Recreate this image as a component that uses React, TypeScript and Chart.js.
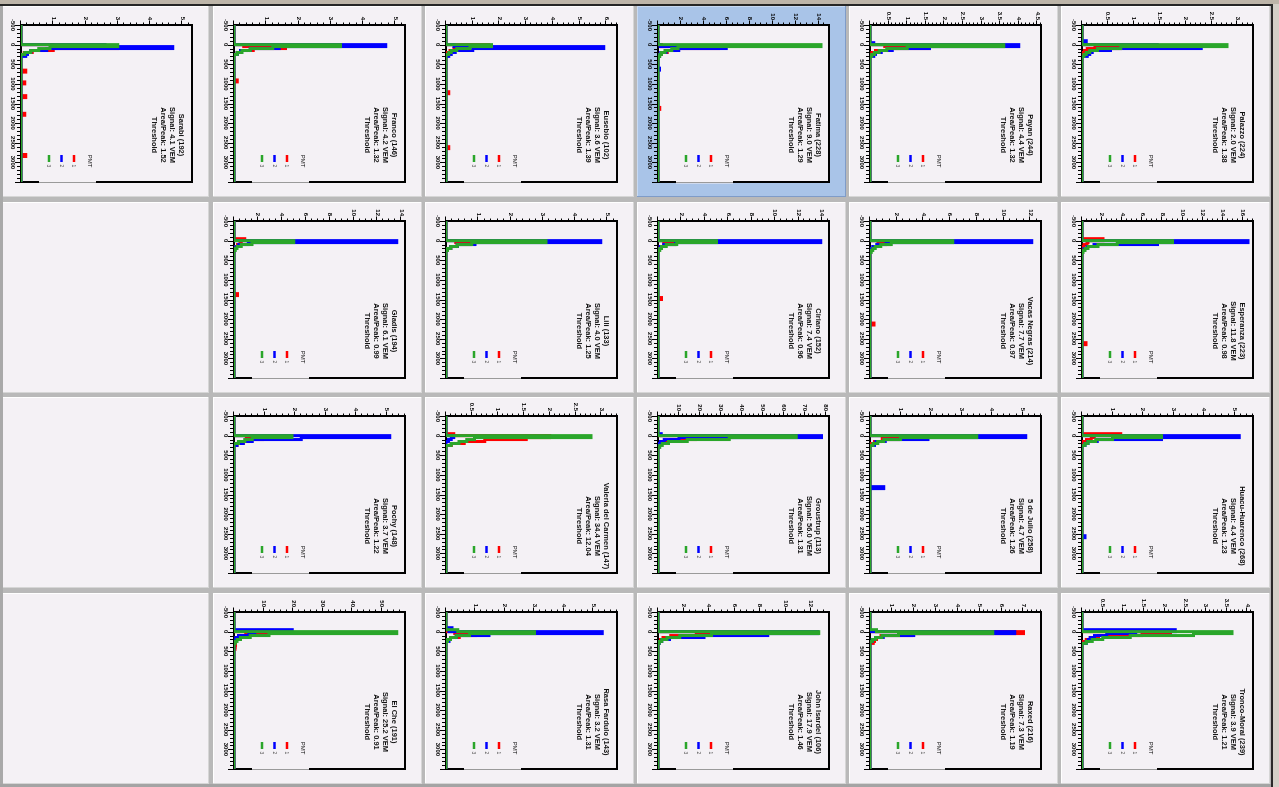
import React, { useEffect, useRef } from 'react';
import { Chart, registerables } from 'chart.js';

Chart.register(...registerables);

type Pt = [number, number];

// ---------- shared axis data ----------
const X_TICKS = [-500, 0, 500, 1000, 1500, 2000, 2500, 3000];
const X_MIN = -500;
const X_MAX = 3500;
const PMT_LABELS = ['1', '2', '3'];
const LEGEND_TITLE = 'PMT';

// ---------- per-station data (bin left edge, count) ----------
const palazzoTitle = ['Palazzo (224)', 'Signal: 2.0 VEM', 'Area/Peak: 1.38', 'Threshold'];
const palazzoYTicks = [0.5, 1, 1.5, 2, 2.5, 3];
const palazzoPmt1: Pt[] = [[-500, 0], [0, 0.25], [50, 0.75], [100, 0.1], [150, 0.05], [200, 0], [3500, 0]];
const palazzoPmt2: Pt[] = [[-500, 0], [-100, 0.08], [-50, 0], [0, 1.45], [50, 2.3], [100, 0.55], [150, 0.2], [200, 0.15], [250, 0.1], [300, 0], [3500, 0]];
const palazzoPmt3: Pt[] = [[-500, 0], [0, 2.8], [50, 0.75], [100, 0.3], [150, 0.15], [200, 0.08], [250, 0.04], [300, 0], [3500, 0]];

const payanTitle = ['Payan (244)', 'Signal: 4.4 VEM', 'Area/Peak: 1.32', 'Threshold'];
const payanYTicks = [0.5, 1, 1.5, 2, 2.5, 3, 3.5, 4, 4.5];
const payanPmt1: Pt[] = [[-500, 0], [0, 0.4], [50, 1.6], [100, 0.5], [150, 0.15], [200, 0.05], [250, 0], [3500, 0]];
const payanPmt2: Pt[] = [[-500, 0], [-50, 0.1], [0, 4.0], [50, 1.6], [100, 0.6], [150, 0.3], [200, 0.15], [250, 0.1], [300, 0], [3500, 0]];
const payanPmt3: Pt[] = [[-500, 0], [0, 3.6], [50, 1.0], [100, 0.45], [150, 0.25], [200, 0.12], [250, 0.05], [300, 0], [3500, 0]];

const fatimaTitle = ['Fatima (228)', 'Signal: 9.0 VEM', 'Area/Peak: 1.29', 'Threshold'];
const fatimaYTicks = [2, 4, 6, 8, 10, 12, 14];
const fatimaPmt1: Pt[] = [[-500, 0], [0, 0.3], [50, 5.3], [100, 1.5], [150, 0.8], [200, 0.3], [250, 0.1], [300, 0], [1600, 0.15], [1650, 0], [3500, 0]];
const fatimaPmt2: Pt[] = [[-500, 0], [0, 0.2], [50, 5.95], [100, 1.8], [150, 0.7], [200, 0.25], [250, 0.1], [300, 0], [600, 0.12], [650, 0], [3500, 0]];
const fatimaPmt3: Pt[] = [[-500, 0], [0, 14.2], [50, 1.75], [100, 1.2], [150, 0.6], [200, 0.3], [250, 0.15], [300, 0.05], [350, 0], [3500, 0]];

const eusebioTitle = ['Eusebio (102)', 'Signal: 3.6 VEM', 'Area/Peak: 1.39', 'Threshold'];
const eusebioYTicks = [1, 2, 3, 4, 5, 6];
const eusebioPmt1: Pt[] = [[-500, 0], [0, 1.6], [50, 0.7], [100, 0.3], [150, 0.15], [200, 0], [1200, 0.1], [1250, 0], [2600, 0.1], [2650, 0], [3500, 0]];
const eusebioPmt2: Pt[] = [[-500, 0], [0, 0.3], [50, 5.9], [100, 1.0], [150, 0.35], [200, 0.2], [250, 0.1], [300, 0], [3500, 0]];
const eusebioPmt3: Pt[] = [[-500, 0], [0, 1.7], [50, 0.9], [100, 0.4], [150, 0.2], [200, 0.1], [250, 0], [3500, 0]];

const francoTitle = ['Franco (146)', 'Signal: 4.2 VEM', 'Area/Peak: 1.32', 'Threshold'];
const francoYTicks = [1, 2, 3, 4, 5];
const francoPmt1: Pt[] = [[-500, 0], [0, 0.3], [50, 1.6], [100, 0.6], [150, 0.2], [200, 0.1], [250, 0], [900, 0.1], [950, 0], [3500, 0]];
const francoPmt2: Pt[] = [[-500, 0], [0, 4.7], [50, 1.4], [100, 0.5], [150, 0.2], [200, 0.1], [250, 0], [3500, 0]];
const francoPmt3: Pt[] = [[-500, 0], [0, 3.3], [50, 1.2], [100, 0.5], [150, 0.25], [200, 0.1], [250, 0], [3500, 0]];

const sarabiTitle = ['Sarabi (192)', 'Signal: 4.1 VEM', 'Area/Peak: 1.52', 'Threshold'];
const sarabiYTicks = [1, 2, 3, 4, 5];
const sarabiPmt1: Pt[] = [[-500, 0], [0, 1.0], [50, 3.0], [100, 1.0], [150, 0.35], [200, 0.1], [250, 0], [650, 0.15], [700, 0], [950, 0.12], [1000, 0], [1300, 0.15], [1350, 0], [1750, 0.12], [1800, 0], [2800, 0.15], [2850, 0], [3500, 0]];
const sarabiPmt2: Pt[] = [[-500, 0], [0, 2.6], [50, 4.7], [100, 0.8], [150, 0.3], [200, 0.2], [250, 0.15], [300, 0], [3500, 0]];
const sarabiPmt3: Pt[] = [[-500, 0], [0, 3.0], [50, 0.9], [100, 0.55], [150, 0.3], [200, 0.12], [250, 0], [3500, 0]];

const esperanzaTitle = ['Esperanza (223)', 'Signal: 11.8 VEM', 'Area/Peak: 0.98', 'Threshold'];
const esperanzaYTicks = [2, 4, 6, 8, 10, 12, 14, 16];
const esperanzaPmt1: Pt[] = [[-500, 0], [-50, 2.1], [0, 0.6], [50, 0.5], [100, 0.2], [150, 0], [2600, 0.4], [2650, 0], [3500, 0]];
const esperanzaPmt2: Pt[] = [[-500, 0], [0, 16.5], [50, 7.5], [100, 1.2], [150, 0.5], [200, 0.2], [250, 0], [3500, 0]];
const esperanzaPmt3: Pt[] = [[-500, 0], [0, 9.0], [50, 3.5], [100, 1.6], [150, 0.6], [200, 0.3], [250, 0.1], [300, 0], [3500, 0]];

const vacasTitle = ['Vacas Negras (214)', 'Signal: 7.7 VEM', 'Area/Peak: 0.97', 'Threshold'];
const vacasYTicks = [2, 4, 6, 8, 10, 12];
const vacasPmt1: Pt[] = [[-500, 0], [0, 0.6], [50, 1.5], [100, 0.6], [150, 0.3], [200, 0.1], [250, 0], [2100, 0.3], [2150, 0], [3500, 0]];
const vacasPmt2: Pt[] = [[-500, 0], [0, 12.1], [50, 1.2], [100, 0.5], [150, 0.2], [200, 0], [3500, 0]];
const vacasPmt3: Pt[] = [[-500, 0], [0, 6.2], [50, 1.6], [100, 0.8], [150, 0.4], [200, 0.2], [250, 0.1], [300, 0], [3500, 0]];

const cirianoTitle = ['Ciriano (152)', 'Signal: 7.4 VEM', 'Area/Peak: 0.96', 'Threshold'];
const cirianoYTicks = [2, 4, 6, 8, 10, 12, 14];
const cirianoPmt1: Pt[] = [[-500, 0], [0, 0.5], [50, 1.4], [100, 0.5], [150, 0.2], [200, 0], [1450, 0.3], [1500, 0], [3500, 0]];
const cirianoPmt2: Pt[] = [[-500, 0], [0, 13.9], [50, 1.5], [100, 0.5], [150, 0.2], [200, 0], [3500, 0]];
const cirianoPmt3: Pt[] = [[-500, 0], [0, 5.0], [50, 1.6], [100, 0.7], [150, 0.3], [200, 0.15], [250, 0], [3500, 0]];

const liliTitle = ['Lili (133)', 'Signal: 4.0 VEM', 'Area/Peak: 1.25', 'Threshold'];
const liliYTicks = [1, 2, 3, 4, 5];
const liliPmt1: Pt[] = [[-500, 0], [0, 0.3], [50, 0.75], [100, 0.35], [150, 0.15], [200, 0], [3500, 0]];
const liliPmt2: Pt[] = [[-500, 0], [0, 4.8], [50, 0.9], [100, 0.35], [150, 0.15], [200, 0], [3500, 0]];
const liliPmt3: Pt[] = [[-500, 0], [0, 3.1], [50, 0.8], [100, 0.35], [150, 0.15], [200, 0.05], [250, 0], [3500, 0]];

const gladisTitle = ['Gladis (194)', 'Signal: 6.1 VEM', 'Area/Peak: 0.99', 'Threshold'];
const gladisYTicks = [2, 4, 6, 8, 10, 12, 14];
const gladisPmt1: Pt[] = [[-500, 0], [-50, 0.9], [0, 0.5], [50, 0.6], [100, 0.3], [150, 0], [1350, 0.3], [1400, 0], [3500, 0]];
const gladisPmt2: Pt[] = [[-500, 0], [0, 13.6], [50, 1.2], [100, 0.4], [150, 0.15], [200, 0], [3500, 0]];
const gladisPmt3: Pt[] = [[-500, 0], [0, 5.0], [50, 1.5], [100, 0.6], [150, 0.25], [200, 0.1], [250, 0], [3500, 0]];

const huacuTitle = ['Huacu-Huarenco (268)', 'Signal: 4.4 VEM', 'Area/Peak: 1.23', 'Threshold'];
const huacuYTicks = [1, 2, 3, 4, 5];
const huacuPmt1: Pt[] = [[-500, 0], [-50, 1.27], [0, 0.4], [50, 0.3], [100, 0.15], [150, 0], [3500, 0]];
const huacuPmt2: Pt[] = [[-500, 0], [0, 5.15], [50, 2.6], [100, 0.5], [150, 0.2], [200, 0.1], [250, 0], [2550, 0.1], [2600, 0], [3500, 0]];
const huacuPmt3: Pt[] = [[-500, 0], [0, 2.6], [50, 1.0], [100, 0.45], [150, 0.2], [200, 0.1], [250, 0], [3500, 0]];

const julioTitle = ['5 de Julio (258)', 'Signal: 4.7 VEM', 'Area/Peak: 1.26', 'Threshold'];
const julioYTicks = [1, 2, 3, 4, 5];
const julioPmt1: Pt[] = [[-500, 0], [0, 0.4], [50, 0.95], [100, 0.4], [150, 0.15], [200, 0], [3500, 0]];
const julioPmt2: Pt[] = [[-500, 0], [0, 5.1], [50, 1.9], [100, 0.5], [150, 0.2], [200, 0.15], [250, 0], [1300, 0.45], [1350, 0], [3500, 0]];
const julioPmt3: Pt[] = [[-500, 0], [0, 3.5], [50, 1.0], [100, 0.45], [150, 0.25], [200, 0.1], [250, 0], [3500, 0]];

const groustrupTitle = ['Groustrup (113)', 'Signal: 56.0 VEM', 'Area/Peak: 1.31', 'Threshold'];
const groustrupYTicks = [10, 20, 30, 40, 50, 60, 70, 80];
const groustrupPmt1: Pt[] = [[-500, 0], [0, 33], [50, 18], [100, 6], [150, 2], [200, 0.6], [250, 0], [3500, 0]];
const groustrupPmt2: Pt[] = [[-500, 0], [-50, 1.5], [0, 78], [50, 10], [100, 3], [150, 1.2], [200, 0.5], [250, 0], [3500, 0]];
const groustrupPmt3: Pt[] = [[-500, 0], [0, 66], [50, 34], [100, 14], [150, 5], [200, 2], [250, 0.8], [300, 0], [3500, 0]];

const valeriaTitle = ['Valeria del Carmen (147)', 'Signal: 34.4 VEM', 'Area/Peak: 12.04', 'Threshold'];
const valeriaYTicks = [0.5, 1, 1.5, 2, 2.5, 3];
const valeriaPmt1: Pt[] = [[-500, 0], [-50, 0.15], [0, 2.0], [50, 1.55], [100, 0.75], [150, 0.35], [200, 0.1], [250, 0], [3500, 0]];
const valeriaPmt2: Pt[] = [[-500, 0], [0, 0.15], [50, 0.1], [100, 0.05], [150, 0], [3500, 0]];
const valeriaPmt3: Pt[] = [[-500, 0], [0, 2.8], [50, 0.55], [100, 0.4], [150, 0.25], [200, 0.1], [250, 0], [3500, 0]];

const pochyTitle = ['Pochy (148)', 'Signal: 3.7 VEM', 'Area/Peak: 1.22', 'Threshold'];
const pochyYTicks = [1, 2, 3, 4, 5];
const pochyPmt1: Pt[] = [[-500, 0], [0, 0.4], [50, 0.95], [100, 0.5], [150, 0.3], [200, 0.1], [250, 0], [3500, 0]];
const pochyPmt2: Pt[] = [[-500, 0], [0, 5.1], [50, 2.2], [100, 0.6], [150, 0.3], [200, 0.1], [250, 0], [3500, 0]];
const pochyPmt3: Pt[] = [[-500, 0], [0, 1.9], [50, 0.6], [100, 0.35], [150, 0.15], [200, 0], [3500, 0]];

const troncoTitle = ['Tronco-Moral (239)', 'Signal: 3.9 VEM', 'Area/Peak: 1.21', 'Threshold'];
const troncoYTicks = [0.5, 1, 1.5, 2, 2.5, 3, 3.5, 4];
const troncoPmt1: Pt[] = [[-500, 0], [0, 2.14], [50, 1.45], [100, 0.4], [150, 0.2], [200, 0.1], [250, 0], [3500, 0]];
const troncoPmt2: Pt[] = [[-500, 0], [-50, 2.26], [0, 1.3], [50, 0.6], [100, 0.3], [150, 0.2], [200, 0.15], [250, 0.1], [300, 0], [3500, 0]];
const troncoPmt3: Pt[] = [[-500, 0], [0, 3.63], [50, 2.7], [100, 1.17], [150, 0.5], [200, 0.25], [250, 0.1], [300, 0], [3500, 0]];

const raxedTitle = ['Raxed (216)', 'Signal: 7.3 VEM', 'Area/Peak: 1.19', 'Threshold'];
const raxedYTicks = [1, 2, 3, 4, 5, 6, 7];
const raxedPmt1: Pt[] = [[-500, 0], [0, 7.0], [50, 1.9], [100, 0.5], [150, 0.3], [200, 0.2], [250, 0.15], [300, 0], [3500, 0]];
const raxedPmt2: Pt[] = [[-500, 0], [0, 6.6], [50, 2.0], [100, 0.6], [150, 0.25], [200, 0.1], [250, 0], [3500, 0]];
const raxedPmt3: Pt[] = [[-500, 0], [-50, 0.3], [0, 5.6], [50, 1.3], [100, 0.55], [150, 0.25], [200, 0.1], [250, 0], [3500, 0]];

const johnTitle = ['John Isardel (106)', 'Signal: 17.9 VEM', 'Area/Peak: 1.46', 'Threshold'];
const johnYTicks = [2, 4, 6, 8, 10, 12];
const johnPmt1: Pt[] = [[-500, 0], [0, 7.5], [50, 3.0], [100, 1.0], [150, 0.4], [200, 0.2], [250, 0], [3500, 0]];
const johnPmt2: Pt[] = [[-500, 0], [0, 12.5], [50, 8.6], [100, 3.6], [150, 0.9], [200, 0.3], [250, 0.1], [300, 0], [3500, 0]];
const johnPmt3: Pt[] = [[-500, 0], [0, 12.6], [50, 4.2], [100, 1.7], [150, 0.7], [200, 0.3], [250, 0.1], [300, 0], [3500, 0]];

const rasaTitle = ['Rasa Fardulo (143)', 'Signal: 3.2 VEM', 'Area/Peak: 1.31', 'Threshold'];
const rasaYTicks = [1, 2, 3, 4, 5];
const rasaPmt1: Pt[] = [[-500, 0], [0, 0.3], [50, 1.0], [100, 0.45], [150, 0.15], [200, 0], [3500, 0]];
const rasaPmt2: Pt[] = [[-500, 0], [-100, 0.2], [-50, 0.1], [0, 5.3], [50, 1.46], [100, 0.35], [150, 0.15], [200, 0.1], [250, 0], [3500, 0]];
const rasaPmt3: Pt[] = [[-500, 0], [-50, 0.4], [0, 3.0], [50, 0.8], [100, 0.35], [150, 0.15], [200, 0.05], [250, 0], [3500, 0]];

const elcheTitle = ['El Che (191)', 'Signal: 25.2 VEM', 'Area/Peak: 0.91', 'Threshold'];
const elcheYTicks = [10, 20, 30, 40, 50];
const elchePmt1: Pt[] = [[-500, 0], [0, 11.8], [50, 4.0], [100, 1.6], [150, 0.8], [200, 0.4], [250, 0], [300, 0.5], [350, 0.4], [400, 0.3], [450, 0], [3500, 0]];
const elchePmt2: Pt[] = [[-500, 0], [-50, 19.7], [0, 7.0], [50, 5.0], [100, 1.5], [150, 0.6], [200, 0.3], [250, 0], [3500, 0]];
const elchePmt3: Pt[] = [[-500, 0], [0, 55], [50, 11.8], [100, 5.5], [150, 2.2], [200, 1.0], [250, 0.4], [300, 0], [3500, 0]];

// ---------- layout / style ----------
const FONT = '"Liberation Sans", Arial, Helvetica, sans-serif';
const RED = '#ff0000';
const BLUE = '#0000ff';
const GREEN = '#2aa62a';
const PANEL_BG = '#f4f1f5';
const SELECTED_BG = '#a9c4e8';
const COL_X = [0, 213, 425, 637, 849, 1061];
const ROW_Y = [6, 202, 397, 593];
const PANEL_W = 209;
const PANEL_H = 191;
const CW = 192; // canvas width (before rotation)
const CH = 210; // canvas height (before rotation)

interface PanelCfg {
  col: number; row: number; title: string[]; yTicks: number[]; yMax: number; minor: number;
  pmt1: Pt[]; pmt2: Pt[]; pmt3: Pt[]; selected?: boolean;
}

const PANELS: PanelCfg[] = [
  { col: 5, row: 0, title: palazzoTitle, yTicks: palazzoYTicks, yMax: 3.3, minor: 0.1, pmt1: palazzoPmt1, pmt2: palazzoPmt2, pmt3: palazzoPmt3 },
  { col: 4, row: 0, title: payanTitle, yTicks: payanYTicks, yMax: 4.6, minor: 0.1, pmt1: payanPmt1, pmt2: payanPmt2, pmt3: payanPmt3 },
  { col: 3, row: 0, title: fatimaTitle, yTicks: fatimaYTicks, yMax: 14.9, minor: 0.5, pmt1: fatimaPmt1, pmt2: fatimaPmt2, pmt3: fatimaPmt3, selected: true },
  { col: 2, row: 0, title: eusebioTitle, yTicks: eusebioYTicks, yMax: 6.4, minor: 0.2, pmt1: eusebioPmt1, pmt2: eusebioPmt2, pmt3: eusebioPmt3 },
  { col: 1, row: 0, title: francoTitle, yTicks: francoYTicks, yMax: 5.3, minor: 0.2, pmt1: francoPmt1, pmt2: francoPmt2, pmt3: francoPmt3 },
  { col: 0, row: 0, title: sarabiTitle, yTicks: sarabiYTicks, yMax: 5.3, minor: 0.2, pmt1: sarabiPmt1, pmt2: sarabiPmt2, pmt3: sarabiPmt3 },
  { col: 5, row: 1, title: esperanzaTitle, yTicks: esperanzaYTicks, yMax: 17, minor: 0.5, pmt1: esperanzaPmt1, pmt2: esperanzaPmt2, pmt3: esperanzaPmt3 },
  { col: 4, row: 1, title: vacasTitle, yTicks: vacasYTicks, yMax: 12.8, minor: 0.5, pmt1: vacasPmt1, pmt2: vacasPmt2, pmt3: vacasPmt3 },
  { col: 3, row: 1, title: cirianoTitle, yTicks: cirianoYTicks, yMax: 14.6, minor: 0.5, pmt1: cirianoPmt1, pmt2: cirianoPmt2, pmt3: cirianoPmt3 },
  { col: 2, row: 1, title: liliTitle, yTicks: liliYTicks, yMax: 5.3, minor: 0.2, pmt1: liliPmt1, pmt2: liliPmt2, pmt3: liliPmt3 },
  { col: 1, row: 1, title: gladisTitle, yTicks: gladisYTicks, yMax: 14.3, minor: 0.5, pmt1: gladisPmt1, pmt2: gladisPmt2, pmt3: gladisPmt3 },
  { col: 5, row: 2, title: huacuTitle, yTicks: huacuYTicks, yMax: 5.6, minor: 0.2, pmt1: huacuPmt1, pmt2: huacuPmt2, pmt3: huacuPmt3 },
  { col: 4, row: 2, title: julioTitle, yTicks: julioYTicks, yMax: 5.6, minor: 0.2, pmt1: julioPmt1, pmt2: julioPmt2, pmt3: julioPmt3 },
  { col: 3, row: 2, title: groustrupTitle, yTicks: groustrupYTicks, yMax: 81.6, minor: 2, pmt1: groustrupPmt1, pmt2: groustrupPmt2, pmt3: groustrupPmt3 },
  { col: 2, row: 2, title: valeriaTitle, yTicks: valeriaYTicks, yMax: 3.3, minor: 0.1, pmt1: valeriaPmt1, pmt2: valeriaPmt2, pmt3: valeriaPmt3 },
  { col: 1, row: 2, title: pochyTitle, yTicks: pochyYTicks, yMax: 5.6, minor: 0.2, pmt1: pochyPmt1, pmt2: pochyPmt2, pmt3: pochyPmt3 },
  { col: 5, row: 3, title: troncoTitle, yTicks: troncoYTicks, yMax: 4.14, minor: 0.1, pmt1: troncoPmt1, pmt2: troncoPmt2, pmt3: troncoPmt3 },
  { col: 4, row: 3, title: raxedTitle, yTicks: raxedYTicks, yMax: 7.8, minor: 0.2, pmt1: raxedPmt1, pmt2: raxedPmt2, pmt3: raxedPmt3 },
  { col: 3, row: 3, title: johnTitle, yTicks: johnYTicks, yMax: 13.4, minor: 0.5, pmt1: johnPmt1, pmt2: johnPmt2, pmt3: johnPmt3 },
  { col: 2, row: 3, title: rasaTitle, yTicks: rasaYTicks, yMax: 5.8, minor: 0.2, pmt1: rasaPmt1, pmt2: rasaPmt2, pmt3: rasaPmt3 },
  { col: 1, row: 3, title: elcheTitle, yTicks: elcheYTicks, yMax: 57.8, minor: 2, pmt1: elchePmt1, pmt2: elchePmt2, pmt3: elchePmt3 },
];

const EMPTY_CELLS = [[0, 1], [0, 2], [0, 3]];

function panelBoxStyle(col: number, row: number, selected?: boolean): React.CSSProperties {
  return {
    position: 'absolute',
    left: COL_X[col],
    top: ROW_Y[row],
    width: PANEL_W,
    height: PANEL_H,
    background: selected ? SELECTED_BG : PANEL_BG,
    boxShadow: selected
      ? 'inset -1px -1px 0 #7f9cc8, inset 1px 1px 0 #c8daf2'
      : 'inset -1px -1px 0 #d6d6d6, inset 1px 1px 0 #ffffff',
  };
}

function Panel({ cfg }: { cfg: PanelCfg }) {
  const ref = useRef<HTMLCanvasElement | null>(null);

  useEffect(() => {
    const canvas = ref.current;
    if (!canvas) return;
    const yMajor = cfg.yTicks[1] - cfg.yTicks[0];

    const deco = {
      id: 'deco',
      beforeDatasetsDraw(chart: any) {
        const { ctx, chartArea: a } = chart;
        ctx.save();
        ctx.fillStyle = PANEL_BG;
        ctx.fillRect(a.left, a.top, a.right - a.left, a.bottom - a.top);
        ctx.strokeStyle = '#000';
        ctx.lineWidth = 2;
        ctx.strokeRect(a.left, a.top, a.right - a.left, a.bottom - a.top);
        // lighter portion of the right frame edge
        ctx.strokeStyle = PANEL_BG;
        ctx.lineWidth = 3;
        ctx.beginPath();
        ctx.moveTo(a.right, 114);
        ctx.lineTo(a.right, 171);
        ctx.stroke();
        ctx.strokeStyle = '#9a9a9a';
        ctx.lineWidth = 1;
        ctx.beginPath();
        ctx.moveTo(a.right + 0.5, 114);
        ctx.lineTo(a.right + 0.5, 171);
        ctx.stroke();
        ctx.restore();
      },
      afterDatasetsDraw(chart: any) {
        const { ctx, chartArea: a, scales } = chart;
        const xs = scales.x;
        const ys = scales.y;
        ctx.save();
        ctx.strokeStyle = '#000';
        ctx.lineWidth = 1;
        // x ticks (minor every 100)
        const nx = Math.round((X_MAX - X_MIN) / 100);
        for (let i = 0; i <= nx; i++) {
          const v = X_MIN + i * 100;
          const px = Math.round(xs.getPixelForValue(v)) + 0.5;
          const len = v % 500 === 0 ? 4.5 : 2.5;
          ctx.beginPath();
          ctx.moveTo(px, a.bottom);
          ctx.lineTo(px, a.bottom + 1.5 + len);
          ctx.stroke();
        }
        // y ticks
        const ny = Math.floor(cfg.yMax / cfg.minor + 1e-9);
        for (let i = 0; i <= ny; i++) {
          const v = i * cfg.minor;
          const r = v / yMajor;
          const major = Math.abs(r - Math.round(r)) < 1e-6;
          const py = Math.round(ys.getPixelForValue(v)) + 0.5;
          const len = major ? 4.5 : 2.5;
          ctx.beginPath();
          ctx.moveTo(a.left - len, py);
          ctx.lineTo(a.left, py);
          ctx.stroke();
        }
        // title block
        ctx.fillStyle = '#111';
        ctx.font = `bold 7.5px ${FONT}`;
        ctx.textAlign = 'center';
        ctx.textBaseline = 'middle';
        cfg.title.forEach((line, i) => {
          ctx.fillText(line, a.left + 110, a.top + 10.5 + i * 9.3);
        });
        // legend
        ctx.font = `6px ${FONT}`;
        ctx.fillStyle = '#222';
        ctx.fillText(LEGEND_TITLE, 155, 120.5);
        const cols = [RED, BLUE, GREEN];
        PMT_LABELS.forEach((lab, i) => {
          const y = 136 + i * 12.5;
          ctx.strokeStyle = cols[i];
          ctx.lineWidth = 2.5;
          ctx.beginPath();
          ctx.moveTo(149, y);
          ctx.lineTo(156, y);
          ctx.stroke();
          ctx.fillStyle = '#555';
          ctx.font = `5px ${FONT}`;
          ctx.textAlign = 'left';
          ctx.fillText(lab, 158.5, y + 0.5);
        });
        ctx.restore();
      },
    };

    const ds = (pts: Pt[], color: string) => ({
      data: pts.map(([x, y]) => ({ x, y })),
      borderColor: color,
      backgroundColor: color,
      borderWidth: 3,
      pointRadius: 0,
      stepped: 'before' as const,
      fill: false,
    });

    const tickFont = { family: FONT, size: 6, weight: 'bold' as const };

    const chart = new Chart(canvas, {
      type: 'line',
      data: { datasets: [ds(cfg.pmt3, GREEN), ds(cfg.pmt2, BLUE), ds(cfg.pmt1, RED)] },
      options: {
        responsive: false,
        animation: false,
        devicePixelRatio: 1,
        events: [],
        layout: { padding: { left: 0, top: 18, right: 16, bottom: 0 } },
        plugins: { legend: { display: false }, tooltip: { enabled: false }, title: { display: false } },
        scales: {
          x: {
            type: 'linear',
            min: X_MIN,
            max: X_MAX,
            position: 'bottom',
            grid: { display: false, drawTicks: false },
            border: { display: false },
            ticks: {
              font: tickFont, color: '#000', padding: 5, maxRotation: 0, minRotation: 0, autoSkip: false,
              callback: (v: any) => String(v),
            },
            afterBuildTicks: (s: any) => { s.ticks = X_TICKS.map((v) => ({ value: v })); },
            afterFit: (s: any) => { s.height = CH - 189; },
          },
          y: {
            type: 'linear',
            min: 0,
            max: cfg.yMax,
            position: 'left',
            grid: { display: false, drawTicks: false },
            border: { display: false },
            ticks: {
              font: tickFont, color: '#000', padding: 5, autoSkip: false,
              callback: (v: any) => String(v),
            },
            afterBuildTicks: (s: any) => { s.ticks = cfg.yTicks.map((v) => ({ value: v })); },
            afterFit: (s: any) => { s.width = 19; },
          },
        },
      } as any,
      plugins: [deco],
    });
    return () => chart.destroy();
  }, [cfg]);

  return (
    <div style={panelBoxStyle(cfg.col, cfg.row, cfg.selected)}>
      <canvas
        ref={ref}
        width={CW}
        height={CH}
        style={{
          position: 'absolute',
          left: 0,
          top: 0,
          width: CW,
          height: CH,
          transformOrigin: '0 0',
          transform: `translateX(${CH}px) rotate(90deg)`,
        }}
      />
    </div>
  );
}

export default function App() {
  return (
    <div
      style={{
        position: 'fixed',
        left: 0,
        top: 0,
        width: 1279,
        height: 787,
        background: '#b9b9b9',
        overflow: 'hidden',
      }}
    >
      {PANELS.map((p, i) => (
        <Panel key={i} cfg={p} />
      ))}
      {EMPTY_CELLS.map(([c, r], i) => (
        <div key={'e' + i} style={panelBoxStyle(c, r)} />
      ))}
      <div style={{ position: 'absolute', left: 0, top: 0, width: 1279, height: 4, background: '#bdb5a9' }} />
      <div style={{ position: 'absolute', left: 0, top: 4, width: 1279, height: 2, background: '#262626' }} />
      <div style={{ position: 'absolute', left: 0, top: 6, width: 3, height: 781, background: '#a9a9a9' }} />
      <div style={{ position: 'absolute', left: 1271, top: 4, width: 2, height: 783, background: '#2a2a2a' }} />
      <div style={{ position: 'absolute', left: 1273, top: 4, width: 6, height: 783, background: '#d4d0c8' }} />
      <div style={{ position: 'absolute', left: 0, top: 784, width: 1271, height: 3, background: '#a4a4a4' }} />
    </div>
  );
}
